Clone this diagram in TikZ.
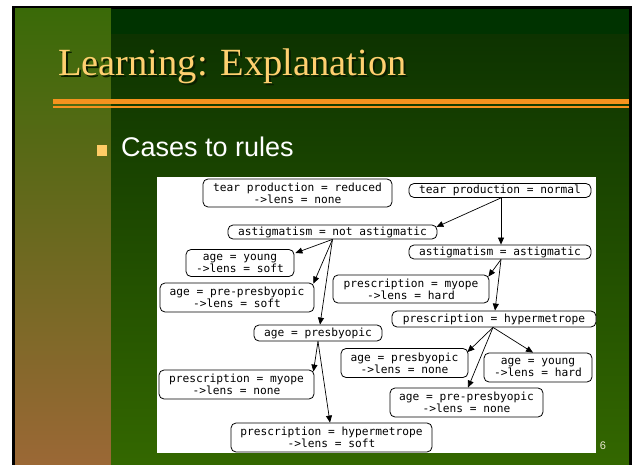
\documentclass[tikz,border=0pt]{standalone}
\usepackage{fontspec}
\setmainfont{Liberation Serif}
\newfontfamily\slidesans{Liberation Sans}
\newfontfamily\rulefont{DejaVu Sans Mono}
\usetikzlibrary{arrows.meta,calc}

\definecolor{titleyellow}{HTML}{FFD070}
\definecolor{titleshadow}{HTML}{0A1E00}
\definecolor{barorange}{HTML}{F5931E}
\definecolor{bandgreen}{HTML}{003300}
\definecolor{maintop}{HTML}{0D3300}
\definecolor{mainmid}{HTML}{245400}
\definecolor{mainbot}{HTML}{346800}
\definecolor{striptop}{HTML}{3A6A08}
\definecolor{stripmid}{HTML}{6E6522}
\definecolor{stripbot}{HTML}{9C6836}
\definecolor{bulletyellow}{HTML}{FFCC66}
\definecolor{pagegrey}{HTML}{E8E8D0}

\begin{document}
\begin{tikzpicture}[x=1pt,y=-1pt,
  rulebox/.style={draw=black, line width=0.8pt, rounded corners=5pt, fill=white,
    inner sep=0pt, align=center, text=black,
    font=\rulefont\fontsize{11.2}{12}\selectfont},
  link/.style={draw=black, line width=0.7pt, -{Triangle[length=7pt,width=6pt]}},
]
\useasboundingbox (0,0) rectangle (634,465);

% slide background
\fill[white] (0,0) rectangle (634,465);
\fill[black] (12,6) rectangle (632,470);
\shade[top color=striptop, middle color=stripmid, bottom color=stripbot]
  (15,9) rectangle (111,470);
\shade[top color=maintop, middle color=mainmid, bottom color=mainbot]
  (111,34) rectangle (629,470);
\fill[bandgreen] (111,9) rectangle (629,34);

% title with drop shadow
\node[anchor=base west, inner sep=0pt, text=titleshadow,
  font=\fontsize{38.5}{40}\selectfont] (titleshade) at (60,78) {Learning: Explanation};
\node[anchor=base west, inner sep=0pt, text=titleyellow,
  font=\fontsize{38.5}{40}\selectfont] (title) at (58,76) {Learning: Explanation};

% title rule
\fill[barorange] (53,99) rectangle (629,104.5);
\fill[barorange] (53,106.3) rectangle (629,108);

% bullet
\fill[bulletyellow] (97,145) rectangle (107,156);
\node[anchor=base west, inner sep=0pt, text=white,
  font=\slidesans\fontsize{27}{30}\selectfont] (bullet) at (121,157) {Cases to rules};

% diagram panel
\fill[white] (157,177) rectangle (596,453);

% rule tree
\node[rulebox, minimum width=189pt, minimum height=28pt] (n1) at (297.5,193) {tear production = reduced\\->lens = none};
\node[rulebox, minimum width=182pt, minimum height=14pt] (n2) at (500,190.5) {tear production = normal};
\node[rulebox, minimum width=209pt, minimum height=14pt] (n3) at (332.5,232) {astigmatism = not astigmatic};
\node[rulebox, minimum width=108pt, minimum height=27pt] (n4) at (240,263) {age = young\\->lens = soft};
\node[rulebox, minimum width=182pt, minimum height=14pt] (n5) at (500,252) {astigmatism = astigmatic};
\node[rulebox, minimum width=156pt, minimum height=28pt] (n6) at (411,289) {prescription = myope\\->lens = hard};
\node[rulebox, minimum width=154pt, minimum height=29pt] (n7) at (237,297.5) {age = pre-presbyopic\\->lens = soft};
\node[rulebox, minimum width=128pt, minimum height=16pt] (n8) at (318,333) {age = presbyopic};
\node[rulebox, minimum width=204pt, minimum height=16pt] (n9) at (494,319) {prescription = hypermetrope};
\node[rulebox, minimum width=127pt, minimum height=29pt] (n10) at (404.5,363) {age = presbyopic\\->lens = none};
\node[rulebox, minimum width=108pt, minimum height=29pt] (n11) at (538,367.5) {age = young\\->lens = hard};
\node[rulebox, minimum width=155pt, minimum height=29pt] (n12) at (236.5,384.5) {prescription = myope\\->lens = none};
\node[rulebox, minimum width=153pt, minimum height=29pt] (n13) at (466.5,402.5) {age = pre-presbyopic\\->lens = none};
\node[rulebox, minimum width=201pt, minimum height=29pt] (n14) at (331.5,437.5) {prescription = hypermetrope\\->lens = soft};

\draw[link] ($(n2.south)+(1,0)$) -- ($(n3.east)+(-1,-5)$);
\draw[link] ($(n2.south)+(1,0)$) -- ($(n5.north)+(1,0)$);
\draw[link] (n3.south) -- ($(n4.east)+(1,-10)$);
\draw[link] (n3.south) -- ($(n7.north east)+(-1,1)$);
\draw[link] (n3.south) -- ($(n8.north)+(2,0)$);
\draw[link] ($(n5.south)+(1,0)$) -- ($(n6.north east)+(-1,2)$);
\draw[link] ($(n5.south)+(1,0)$) -- ($(n9.north)+(1,0)$);
\draw[link] (n8.south) -- ($(n12.north east)+(-1,2)$);
\draw[link] (n8.south) -- ($(n14.north)+(-1.5,0)$);
\draw[link] ($(n9.south)+(-1,0)$) -- ($(n10.north east)+(-1,4)$);
\draw[link] ($(n9.south)+(-1,0)$) -- ($(n11.north)+(-5,0)$);
\draw[link] ($(n9.south)+(-1,0)$) -- ($(n13.north)+(1.5,0)$);

% slide number
\node[inner sep=0pt, text=pagegrey, font=\slidesans\fontsize{11}{12}\selectfont] (pagenum) at (603,446) {6};
\end{tikzpicture}
\end{document}
